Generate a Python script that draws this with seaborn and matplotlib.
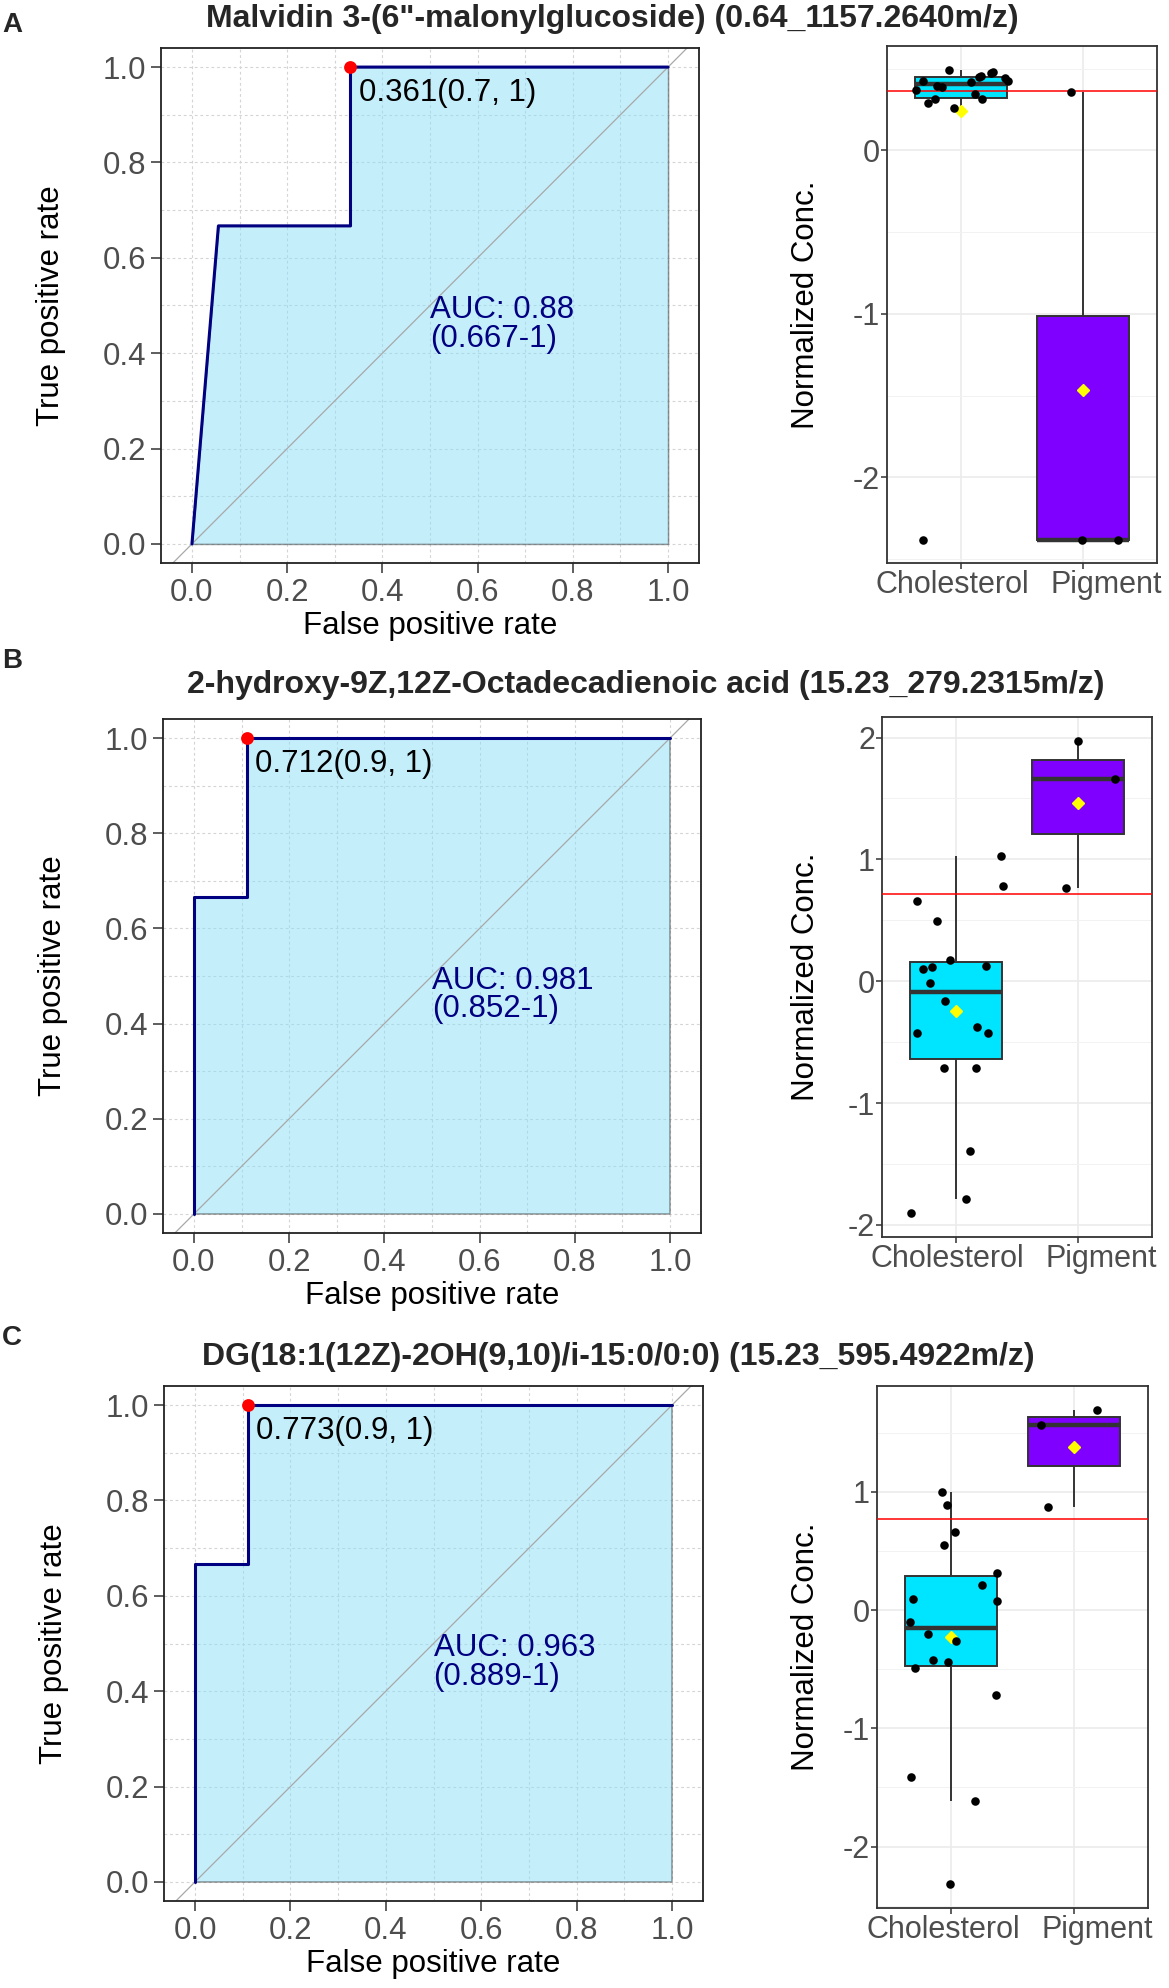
import numpy as np
import pandas as pd
import matplotlib
matplotlib.use("Agg")
import matplotlib.pyplot as plt
import matplotlib.transforms as mtransforms
from matplotlib.ticker import MultipleLocator, FormatStrFormatter
import seaborn as sns

sns.set_theme(style="white")
plt.rcParams["font.family"] = ["Liberation Sans", "DejaVu Sans"]

# ---------------- data ----------------
panel_letters = ["A", "B", "C"]
titles = [
    "Malvidin 3-(6\"-malonylglucoside) (0.64_1157.2640m/z)",
    "2-hydroxy-9Z,12Z-Octadecadienoic acid (15.23_279.2315m/z)",
    "DG(18:1(12Z)-2OH(9,10)/i-15:0/0:0) (15.23_595.4922m/z)",
]
groups = ["Cholesterol", "Pigment"]
box_colors = ["#00E5FF", "#8000FF"]

# ROC curves (false positive rate / true positive rate)
roc_fpr_A = [0.0, 0.0556, 0.333, 0.333, 1.0]
roc_tpr_A = [0.0, 0.667, 0.667, 1.0, 1.0]
roc_fpr_B = [0.0, 0.0, 0.111, 0.111, 1.0]
roc_tpr_B = [0.0, 0.667, 0.667, 1.0, 1.0]
roc_fpr_C = [0.0, 0.0, 0.111, 0.111, 1.0]
roc_tpr_C = [0.0, 0.667, 0.667, 1.0, 1.0]
cut_fpr = [0.333, 0.111, 0.111]
cut_tpr = [1.0, 1.0, 1.0]
cut_labels = ["0.361(0.7, 1)", "0.712(0.9, 1)", "0.773(0.9, 1)"]
auc_labels = ["AUC: 0.88\n(0.667-1)", "AUC: 0.981\n(0.852-1)", "AUC: 0.963\n(0.889-1)"]
thresholds = [0.361, 0.712, 0.773]

# normalized concentrations and observed jitter offsets
chol_A = [0.494, 0.481, 0.423, 0.456, 0.443, 0.425, 0.418, 0.392, 0.385,
          0.367, 0.342, 0.314, 0.311, 0.291, 0.258, -2.38, 0.45, 0.47]
chol_A_jit = [-0.092, 0.261, -0.31, 0.166, 0.364, 0.383, 0.084, -0.196, -0.155,
              -0.367, 0.117, -0.207, 0.171, -0.266, -0.054, -0.31, 0.15, 0.25]
pig_A = [0.354, -2.38, -2.38]
pig_A_jit = [-0.103, -0.008, 0.285]

chol_B = [1.030, 0.781, 0.658, 0.494, 0.170, 0.101, 0.117, 0.126, -0.016,
          -0.164, -0.425, -0.375, -0.425, -0.712, -0.712, -1.395, -1.792, -1.906]
chol_B_jit = [0.366, 0.385, -0.314, -0.150, -0.046, -0.265, -0.189, 0.251, -0.208,
              -0.090, -0.311, 0.175, 0.265, -0.098, 0.169, 0.117, 0.087, -0.366]
pig_B = [1.975, 1.663, 0.762]
pig_B_jit = [0.0, 0.295, -0.098]

chol_C = [0.997, 0.885, 0.664, 0.554, 0.312, 0.215, 0.097, 0.081, -0.097,
          -0.205, -0.258, -0.419, -0.440, -0.487, -0.721, -1.409, -1.611, -2.319]
chol_C_jit = [-0.074, -0.030, 0.030, -0.054, 0.371, 0.256, -0.311, 0.376, -0.330,
              -0.185, 0.038, -0.144, -0.025, -0.294, 0.362, -0.327, 0.199, -0.005]
pig_C = [1.695, 1.564, 0.875]
pig_C_jit = [0.188, -0.270, -0.215]

rocs = [(roc_fpr_A, roc_tpr_A), (roc_fpr_B, roc_tpr_B), (roc_fpr_C, roc_tpr_C)]
boxes = [(chol_A, chol_A_jit, pig_A, pig_A_jit),
         (chol_B, chol_B_jit, pig_B, pig_B_jit),
         (chol_C, chol_C_jit, pig_C, pig_C_jit)]

# ---------------- layout (pixels) ----------------
W, H = 1169, 1988
fig = plt.figure(figsize=(W / 100, H / 100), dpi=100)
fig.patch.set_facecolor("white")

roc_boxes = [(161, 699, 48, 563), (163, 701, 719, 1233), (164, 703, 1386, 1901)]
bp_boxes = [(887, 1157, 46, 563), (882, 1152, 717, 1237), (877, 1148, 1386, 1908)]
title_pos = [(612, 19), (646, 685), (618, 1357)]
letter_pos = [(2, 25), (2, 661), (2, 1338)]
cat_label_shift_px = [-8, 23]


def add_ax(l, r, t, b):
    return fig.add_axes([l / W, 1 - b / H, (r - l) / W, (b - t) / H])


TICK_GREY = "#4D4D4D"
FS = 22.5

for i in range(3):
    # ---------- ROC panel ----------
    l, r, t, b = roc_boxes[i]
    ax = add_ax(l, r, t, b)
    fpr, tpr = rocs[i]
    ax.set_xlim(-0.065, 1.065)
    ax.set_ylim(-0.04, 1.04)
    ax.xaxis.set_major_locator(MultipleLocator(0.2))
    ax.yaxis.set_major_locator(MultipleLocator(0.2))
    ax.xaxis.set_minor_locator(MultipleLocator(0.1))
    ax.yaxis.set_minor_locator(MultipleLocator(0.1))
    ax.set_axisbelow(True)
    ax.grid(True, which="both", color="#D4D4D4", linestyle=(0, (2.5, 2.5)), linewidth=0.8)
    ax.fill_between(fpr, tpr, 0, facecolor="#8CDFF8", alpha=0.5,
                    edgecolor="#333333", linewidth=1.1, zorder=1)
    ax.plot([-0.2, 1.2], [-0.2, 1.2], color="#A8A8A8", linewidth=0.9, zorder=2)
    sns.lineplot(x=fpr, y=tpr, sort=False, estimator=None, color="#000080",
                 linewidth=2.2, ax=ax, zorder=3)
    ax.scatter([cut_fpr[i]], [cut_tpr[i]], s=85, color="red", zorder=5, linewidths=0)
    ax.annotate(cut_labels[i], (cut_fpr[i], cut_tpr[i]), xytext=(6, -8),
                textcoords="offset points", ha="left", va="top",
                fontsize=FS, color="black", zorder=6)
    ax.text(0.5, 0.46, auc_labels[i], ha="left", va="center", fontsize=FS,
            color="#000080", linespacing=0.92, zorder=6)
    ax.xaxis.set_major_formatter(FormatStrFormatter("%.1f"))
    ax.yaxis.set_major_formatter(FormatStrFormatter("%.1f"))
    ax.tick_params(which="major", length=7.5, width=1.1, color="#333333",
                   labelsize=FS, labelcolor=TICK_GREY, pad=3, direction="out",
                   bottom=True, left=True)
    ax.tick_params(which="minor", length=0)
    for sp in ax.spines.values():
        sp.set_color("#222222")
        sp.set_linewidth(1.3)
    ax.set_xlabel("False positive rate", fontsize=FS, color="black")
    ax.set_ylabel("True positive rate", fontsize=FS, color="black")
    ax.xaxis.set_label_coords(0.5, -0.093)
    ax.yaxis.set_label_coords(-0.177, 0.5)

    # ---------- box panel ----------
    l, r, t, b = bp_boxes[i]
    bx = add_ax(l, r, t, b)
    chol, chol_jit, pig, pig_jit = boxes[i]
    df = pd.DataFrame({
        "group": [groups[0]] * len(chol) + [groups[1]] * len(pig),
        "value": chol + pig,
    })
    sns.boxplot(data=df, x="group", y="value", hue="group", order=groups,
                hue_order=groups, palette=box_colors, saturation=1, width=0.75,
                dodge=False, showfliers=False, showcaps=False, whis=1.5,
                linecolor="#333333", linewidth=1.4,
                medianprops=dict(linewidth=3.2, color="#333333"),
                showmeans=True,
                meanprops=dict(marker="D", markerfacecolor="yellow",
                               markeredgecolor="yellow", markersize=6.5),
                legend=False, ax=bx)
    bx.axhline(thresholds[i], color="red", linewidth=1.1, zorder=4)
    bx.scatter(np.array(chol_jit) + 0, chol, s=38, color="black", zorder=5, linewidths=0)
    bx.scatter(np.array(pig_jit) + 1, pig, s=38, color="black", zorder=5, linewidths=0)
    vals = np.array(chol + pig)
    lo, hi = vals.min(), vals.max()
    pad = 0.05 * (hi - lo)
    bx.set_ylim(lo - pad, hi + pad)
    bx.set_xlim(-0.6, 1.6)
    bx.set_xticks([0, 1])
    bx.set_xticklabels(["", ""])
    bx.yaxis.set_major_locator(MultipleLocator(1))
    bx.yaxis.set_minor_locator(MultipleLocator(0.5))
    bx.yaxis.set_major_formatter(FormatStrFormatter("%d"))
    bx.set_axisbelow(True)
    bx.grid(True, which="major", axis="both", color="#EBEBEB", linewidth=1.2)
    bx.grid(True, which="minor", axis="y", color="#F2F2F2", linewidth=0.7)
    bx.tick_params(which="major", length=4, width=1.1, color="#333333",
                   labelsize=22, labelcolor=TICK_GREY, pad=1, direction="out",
                   bottom=True, left=True)
    bx.tick_params(which="minor", length=0)
    for sp in bx.spines.values():
        sp.set_color("#333333")
        sp.set_linewidth(1.3)
    base = mtransforms.blended_transform_factory(bx.transData, bx.transAxes)
    for k, name in enumerate(groups):
        off = mtransforms.ScaledTranslation(cat_label_shift_px[k] / 100, -7 / 100,
                                            fig.dpi_scale_trans)
        bx.text(k, 0, name, transform=base + off, ha="center", va="top",
                fontsize=22, color=TICK_GREY)
    bx.set_xlabel("")
    bx.set_ylabel("Normalized Conc.", fontsize=FS, color="black")
    bx.yaxis.set_label_coords((821 - l) / (r - l), 0.5)

    # ---------- titles ----------
    fig.text(title_pos[i][0] / W, 1 - title_pos[i][1] / H, titles[i],
             ha="center", va="center", fontsize=23, fontweight="bold")
    fig.text(letter_pos[i][0] / W, 1 - letter_pos[i][1] / H, panel_letters[i],
             ha="left", va="center", fontsize=20, fontweight="bold")

fig.savefig("out.png", dpi=100, facecolor="white")
